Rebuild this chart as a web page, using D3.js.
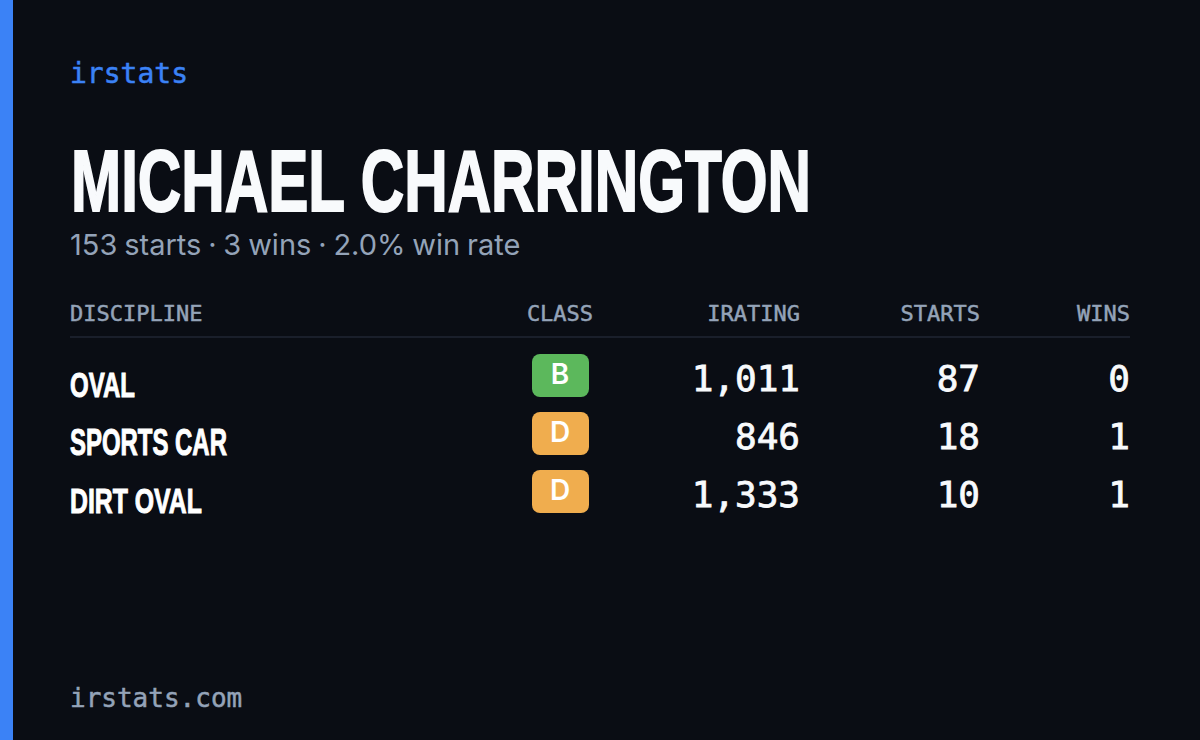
<!DOCTYPE html>
<html>
<head>
<meta charset="utf-8">
<script src="https://cdn.jsdelivr.net/npm/d3@7"></script>
<style>
  html, body { margin: 0; padding: 0; background: #0a0d14; }
  svg { display: block; }
  .mono { font-family: "DejaVu Sans Mono", monospace; }
  .cond { font-family: "Liberation Sans", sans-serif; font-weight: 700; }
  .sans { font-family: Inter, "Open Sans", sans-serif; }
</style>
</head>
<body>
<script>
var disciplines = ["OVAL", "SPORTS CAR", "DIRT OVAL"];
var classes = ["B", "D", "D"];
var iratings = [1011, 846, 1333];
var starts = [87, 18, 10];
var wins = [0, 1, 1];
var headers = ["DISCIPLINE", "CLASS", "IRATING", "STARTS", "WINS"];
var summary = ["153 starts", "3 wins", "2.0% win rate"];
var classColors = { B: "#5cb85c", D: "#f0ad4e" };

var width = 1200, height = 740;
var svg = d3.select("body").append("svg")
  .attr("width", width).attr("height", height);

svg.append("rect").attr("width", width).attr("height", height).attr("fill", "#0a0d14");
svg.append("rect").attr("width", 13).attr("height", height).attr("fill", "#3b82f6");

// no condensed face installed, so squeeze the bold sans to the measured width
function condensed(sel, x, y, targetWidth) {
  var w = sel.node().getComputedTextLength();
  sel.attr("transform", "translate(" + x + "," + y + ") scale(" + (targetWidth / w) + ",1)");
}

svg.append("text").attr("class", "mono").attr("x", 70).attr("y", 83)
  .attr("font-size", 28).attr("fill", "#3b82f6")
  .attr("stroke", "#3b82f6").attr("stroke-width", 0.5).text("irstats");

var title = svg.append("text").attr("class", "cond")
  .attr("font-size", 87).attr("fill", "#f8fafc")
  .attr("stroke", "#f8fafc").attr("stroke-width", 2).text("MICHAEL CHARRINGTON");
condensed(title, 71, 211, 740);

svg.append("text").attr("class", "sans").attr("x", 70).attr("y", 255)
  .attr("font-size", 29).attr("fill", "#94a3b8")
  .attr("word-spacing", -1.3)
  .text(summary.join(" · "));

// header row
var headX = [70, 560, 800, 980, 1130];
var headAnchor = ["start", "middle", "end", "end", "end"];
svg.selectAll("text.head").data(headers).enter().append("text")
  .attr("class", "head mono")
  .attr("x", function(d, i) { return headX[i]; })
  .attr("y", 321)
  .attr("text-anchor", function(d, i) { return headAnchor[i]; })
  .attr("font-size", 22)
  .attr("fill", "#94a3b8")
  .attr("stroke", "#94a3b8").attr("stroke-width", 0.5)
  .text(function(d) { return d; });

svg.append("line").attr("x1", 70).attr("x2", 1130).attr("y1", 337).attr("y2", 337)
  .attr("stroke", "#1a1f2b").attr("stroke-width", 2);

// rows
var y = d3.scaleBand().domain(d3.range(disciplines.length)).range([346, 520]);
var fmt = d3.format(",");
var labelWidths = [65, 157, 132];

var row = svg.selectAll("g.row").data(disciplines).enter().append("g")
  .attr("class", "row")
  .attr("transform", function(d, i) { return "translate(0," + y(i) + ")"; });

row.append("text").attr("class", "cond")
  .attr("font-size", 36).attr("fill", "#ffffff")
  .attr("stroke", "#ffffff").attr("stroke-width", 1)
  .text(function(d) { return d; })
  .each(function(d, i) { condensed(d3.select(this), 70, 51, labelWidths[i]); });

row.append("rect").attr("x", 532).attr("y", 8).attr("width", 57).attr("height", 43).attr("rx", 8)
  .attr("fill", function(d, i) { return classColors[classes[i]]; });

row.append("text").attr("class", "sans").attr("x", 560).attr("y", 38)
  .attr("text-anchor", "middle").attr("font-size", 28).attr("font-weight", 600)
  .attr("fill", "#ffffff").text(function(d, i) { return classes[i]; });

row.append("text").attr("class", "mono").attr("x", 800).attr("y", 45)
  .attr("text-anchor", "end").attr("font-size", 36).attr("fill", "#f8fafc")
  .attr("stroke", "#f8fafc").attr("stroke-width", 0.8)
  .text(function(d, i) { return fmt(iratings[i]); });

row.append("text").attr("class", "mono").attr("x", 980).attr("y", 45)
  .attr("text-anchor", "end").attr("font-size", 36).attr("fill", "#f8fafc")
  .attr("stroke", "#f8fafc").attr("stroke-width", 0.8)
  .text(function(d, i) { return starts[i]; });

row.append("text").attr("class", "mono").attr("x", 1130).attr("y", 45)
  .attr("text-anchor", "end").attr("font-size", 36).attr("fill", "#f8fafc")
  .attr("stroke", "#f8fafc").attr("stroke-width", 0.8)
  .text(function(d, i) { return wins[i]; });

svg.append("text").attr("class", "mono").attr("x", 70).attr("y", 707)
  .attr("font-size", 26).attr("fill", "#94a3b8")
  .attr("stroke", "#94a3b8").attr("stroke-width", 0.5).text("irstats.com");
</script>
</body>
</html>
